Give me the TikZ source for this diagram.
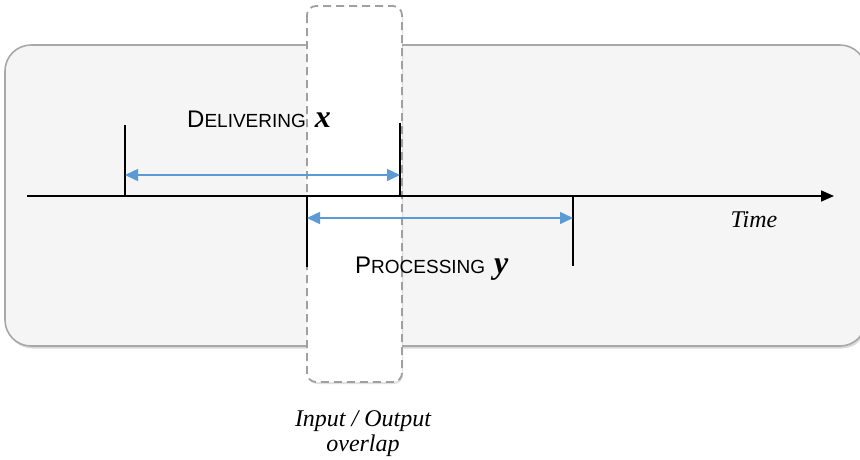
\documentclass[tikz,border=0pt]{standalone}
\usepackage{fontspec}
\newfontfamily\labelsans{Liberation Sans}
\newfontfamily\labelserif{Liberation Serif}
\usetikzlibrary{arrows.meta,shadows}

\definecolor{panelfill}{HTML}{F5F5F5}
\definecolor{panelline}{HTML}{A8A8A8}
\definecolor{spanblue}{HTML}{5B9BD5}
\definecolor{dashgray}{HTML}{A0A0A0}

\tikzset{
  panel/.style={fill=panelfill, draw=panelline, line width=1.6pt, rounded corners=26pt,
    drop shadow={shadow xshift=1.5pt, shadow yshift=-2.5pt, opacity=0.25, fill=black!60}},
  overlapbox/.style={fill=white, draw=dashgray, line width=1.8pt, dash pattern=on 8pt off 5pt,
    rounded corners=9pt,
    drop shadow={shadow xshift=1pt, shadow yshift=-2pt, opacity=0.2, fill=black!60}},
  axis/.style={line width=1.6pt, -{Triangle[length=13pt,width=11pt]}},
  tick/.style={line width=1.4pt},
  span/.style={draw=spanblue, line width=1.5pt, {Triangle[length=13pt,width=12pt]}-{Triangle[length=13pt,width=12pt]}},
  caplabel/.style={inner sep=0pt, anchor=base west},
  serifit/.style={font=\labelserif\fontsize{24}{28}\selectfont\itshape, inner sep=0pt}
}
% small-caps style heading: large initial, smaller capitals, bold italic variable
\newcommand{\spanlabel}[3]{%
  {\labelsans\fontsize{24}{28}\selectfont #1}%
  {\labelsans\fontsize{19}{22}\selectfont #2}\hspace{9pt}%
  {\labelserif\fontsize{32}{36}\selectfont\bfseries\itshape #3}}

\begin{document}
\begin{tikzpicture}[x=1pt,y=-1pt]
  \useasboundingbox (0,0) rectangle (860,459);
  \begin{scope}
    \clip (0,0) rectangle (860,459);
    % background panel
    \path[panel] (5,45) rectangle (866,346);
  \end{scope}
  % overlap window
  \path[overlapbox] (307,6) rectangle (402,382);

  % time axis
  \coordinate (t0) at (27,196);
  \coordinate (t1) at (834,196);
  \draw[axis] (t0) -- (t1);
  \node[serifit] (time) at (754,220) {Time};

  % delivering interval
  \coordinate (d0top) at (125,125);
  \coordinate (d0bot) at (125,196);
  \coordinate (d1top) at (400,123);
  \coordinate (d1bot) at (400,196);
  \draw[tick] (d0top) -- (d0bot);
  \draw[tick] (d1top) -- (d1bot);
  \coordinate (da) at (125,175);
  \coordinate (db) at (400,175);
  \draw[span] (da) -- (db);
  \node[caplabel] (deliv) at (187,127) {\spanlabel{D}{ELIVERING}{x}};

  % processing interval
  \coordinate (p0top) at (307,196);
  \coordinate (p0bot) at (307,267);
  \coordinate (p1top) at (573,196);
  \coordinate (p1bot) at (573,266);
  \draw[tick] (p0top) -- (p0bot);
  \draw[tick] (p1top) -- (p1bot);
  \coordinate (pa) at (307,218);
  \coordinate (pb) at (573,218);
  \draw[span] (pa) -- (pb);
  \node[caplabel] (proc) at (355,273) {\spanlabel{P}{ROCESSING}{y}};

  % caption under the window
  \node[serifit] (io) at (363,421) {Input / Output};
  \node[serifit] (ov) at (363,446) {overlap};
\end{tikzpicture}
\end{document}
